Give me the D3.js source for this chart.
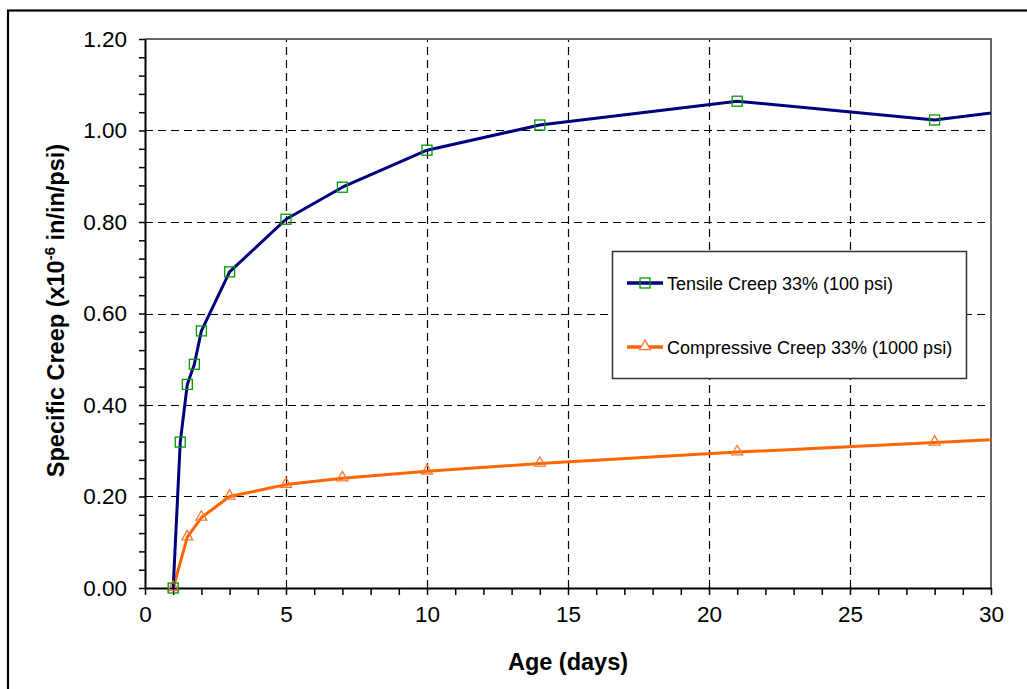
<!DOCTYPE html>
<html>
<head>
<meta charset="utf-8">
<script src="https://cdn.jsdelivr.net/npm/d3@7"></script>
<style>
  html, body { margin: 0; padding: 0; background: #fff; }
  svg { display: block; font-family: "Liberation Sans", Arial, sans-serif; }
</style>
</head>
<body>
<svg id="chart" width="1027" height="689"></svg>
<script>
// Specific creep vs. age, tensile and compressive loading
const tensileDays   = [1, 1.25, 1.5, 1.75, 2, 3, 5, 7, 10, 14, 21, 28, 35];
const tensileCreep  = [0.000, 0.319, 0.445, 0.489, 0.562, 0.691, 0.806, 0.876, 0.957, 1.012, 1.064, 1.023, 1.076];
const compDays      = [1, 1.5, 2, 3, 5, 7, 10, 14, 21, 28, 35];
const compCreep     = [0.000, 0.111, 0.154, 0.200, 0.226, 0.240, 0.255, 0.272, 0.297, 0.318, 0.340];
const xTickValues   = [0, 5, 10, 15, 20, 25, 30];
const yTickValues   = [0.00, 0.20, 0.40, 0.60, 0.80, 1.00, 1.20];
const seriesNames   = ["Tensile Creep 33% (100 psi)", "Compressive Creep 33% (1000 psi)"];

const svg = d3.select("#chart");
const W = 1027, H = 689;
const plot = { left: 145, right: 991, top: 39, bottom: 588 };

// outer frame
svg.append("rect")
  .attr("x", 8).attr("y", 10.5)
  .attr("width", W + 20).attr("height", H + 20)
  .attr("fill", "#fff").attr("stroke", "#000").attr("stroke-width", 2.2);

const x = d3.scaleLinear().domain([0, 30]).range([plot.left, plot.right]);
const y = d3.scaleLinear().domain([0, 1.2]).range([plot.bottom, plot.top]);

// clip to plot area
svg.append("defs").append("clipPath").attr("id", "plotClip")
  .append("rect")
  .attr("x", plot.left).attr("y", plot.top - 10)
  .attr("width", plot.right - plot.left).attr("height", plot.bottom - plot.top + 20);

// dashed grid
const grid = svg.append("g").attr("stroke", "#000").attr("stroke-width", 1.2)
  .attr("stroke-dasharray", "8,5");
grid.selectAll("line.h").data(yTickValues.filter(v => v > 0 && v < 1.2)).join("line")
  .attr("class", "h")
  .attr("x1", plot.left).attr("x2", plot.right)
  .attr("y1", d => Math.round(y(d)) + 0.5).attr("y2", d => Math.round(y(d)) + 0.5);
grid.selectAll("line.v").data(xTickValues.filter(v => v > 0 && v < 30)).join("line")
  .attr("class", "v")
  .attr("y1", plot.bottom).attr("y2", plot.top)
  .attr("x1", d => Math.round(x(d)) + 0.5).attr("x2", d => Math.round(x(d)) + 0.5);

// plot frame (top and right)
svg.append("path")
  .attr("d", `M${plot.left},${plot.top}H${plot.right}V${plot.bottom}`)
  .attr("fill", "none").attr("stroke", "#666").attr("stroke-width", 2);

// axes
const xAxis = d3.axisBottom(x)
  .tickValues(d3.range(0, 31, 1))
  .tickSize(7).tickSizeOuter(0)
  .tickFormat(d => xTickValues.includes(d) ? d3.format("d")(d) : "");
const gx = svg.append("g").attr("transform", `translate(0,${plot.bottom})`).call(xAxis);
gx.select(".domain").attr("stroke", "#000").attr("stroke-width", 2);
gx.selectAll(".tick line").attr("stroke", "#000").attr("stroke-width", 1.5);
gx.selectAll(".tick text")
  .attr("font-size", 22.5).attr("fill", "#000").attr("y", 18)
  .attr("font-family", "'Liberation Sans', Arial, sans-serif");

const yAxis = d3.axisLeft(y)
  .tickValues(d3.range(0, 31).map(i => +(i * 0.04).toFixed(2)))
  .tickSize(6).tickSizeOuter(0)
  .tickFormat(d => yTickValues.some(v => Math.abs(v - d) < 1e-9) ? d3.format(".2f")(d) : "");
const gy = svg.append("g").attr("transform", `translate(${plot.left},0)`).call(yAxis);
gy.select(".domain").attr("stroke", "#000").attr("stroke-width", 2);
gy.selectAll(".tick line").attr("stroke", "#000").attr("stroke-width", 1.5);
gy.selectAll(".tick text")
  .attr("font-size", 22.5).attr("fill", "#000").attr("x", -18)
  .attr("font-family", "'Liberation Sans', Arial, sans-serif");

// axis titles
svg.append("text")
  .attr("x", (plot.left + plot.right) / 2).attr("y", 670)
  .attr("text-anchor", "middle").attr("font-weight", "bold").attr("font-size", 23.5)
  .attr("fill", "#000").text("Age (days)");

const yTitle = svg.append("text")
  .attr("transform", `translate(64,${(plot.top + plot.bottom) / 2 - 3}) rotate(-90)`)
  .attr("text-anchor", "middle").attr("font-weight", "bold").attr("font-size", 23.5)
  .attr("fill", "#000");
yTitle.append("tspan").text("Specific Creep (x10");
yTitle.append("tspan").attr("dy", -9).attr("font-size", 15).text("-6");
yTitle.append("tspan").attr("dy", 9).text(" in/in/psi)");

// series
const tensile = tensileDays.map((d, i) => ({ day: d, v: tensileCreep[i] }));
const comp = compDays.map((d, i) => ({ day: d, v: compCreep[i] }));

const line = d3.line().x(d => x(d.day)).y(d => y(d.v));
const series = svg.append("g").attr("clip-path", "url(#plotClip)");

series.append("path").datum(comp)
  .attr("d", line).attr("fill", "none").attr("stroke", "#FF6600").attr("stroke-width", 3)
  .attr("stroke-linejoin", "round");
series.append("path").datum(tensile)
  .attr("d", line).attr("fill", "none").attr("stroke", "#000080").attr("stroke-width", 3)
  .attr("stroke-linejoin", "round");

const tri = d3.symbol().type(d3.symbolTriangle).size(52);
series.selectAll("path.tri").data(comp).join("path")
  .attr("class", "tri")
  .attr("d", tri)
  .attr("transform", d => `translate(${x(d.day)},${y(d.v) - 0.5})`)
  .attr("fill", "none").attr("stroke", "#FF7733").attr("stroke-width", 1.3);

series.selectAll("rect.sq").data(tensile).join("rect")
  .attr("class", "sq")
  .attr("x", d => x(d.day) - 5).attr("y", d => y(d.v) - 5)
  .attr("width", 10).attr("height", 10)
  .attr("fill", "none").attr("stroke", "#009900").attr("stroke-width", 1.3);

// legend
const lg = svg.append("g");
lg.append("rect")
  .attr("x", 612.5).attr("y", 251.5).attr("width", 354).attr("height", 127)
  .attr("fill", "#fff").attr("stroke", "#333").attr("stroke-width", 1.5);

const legendRows = [
  { name: seriesNames[0], color: "#000080", y: 283, marker: "square" },
  { name: seriesNames[1], color: "#FF6600", y: 347, marker: "triangle" }
];
legendRows.forEach(r => {
  lg.append("line").attr("x1", 627).attr("x2", 663).attr("y1", r.y).attr("y2", r.y)
    .attr("stroke", r.color).attr("stroke-width", 3.5);
  if (r.marker === "square") {
    lg.append("rect").attr("x", 640).attr("y", r.y - 5).attr("width", 10).attr("height", 10)
      .attr("fill", "none").attr("stroke", "#009900").attr("stroke-width", 1.3);
  } else {
    lg.append("path").attr("d", tri).attr("transform", `translate(645,${r.y - 0.5})`)
      .attr("fill", "#fff").attr("stroke", "#FF7733").attr("stroke-width", 1.3);
  }
  lg.append("text").attr("x", 667).attr("y", r.y + 6.5)
    .attr("font-size", 18).attr("fill", "#000").text(r.name);
});
</script>
</body>
</html>
